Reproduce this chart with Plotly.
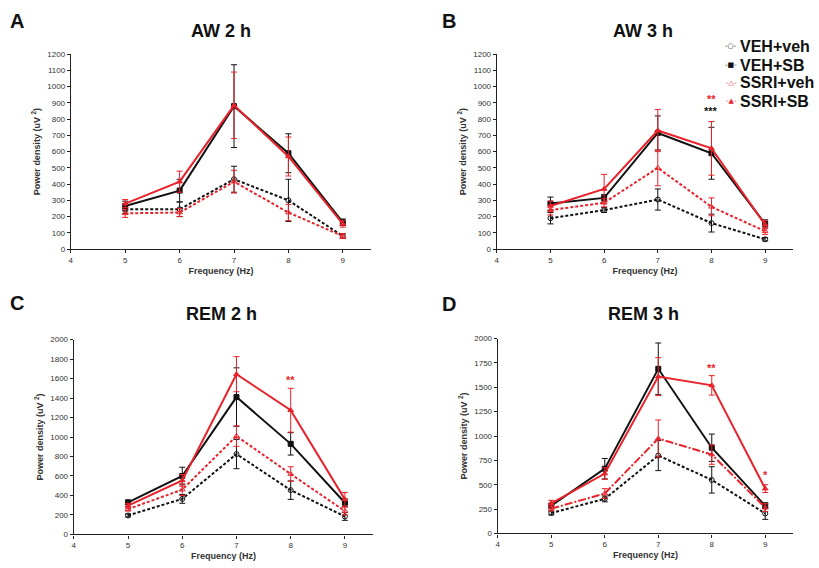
import plotly.graph_objects as go

W, H = 819, 568

freq = [5, 6, 7, 8, 9]
series_names = ["VEH+veh", "VEH+SB", "SSRI+veh", "SSRI+SB"]

# Panel A: AW 2 h
a_veh_veh = [245, 245, 430, 300, 80]
a_veh_sb = [265, 360, 880, 590, 165]
a_ssri_veh = [220, 225, 415, 225, 80]
a_ssri_sb = [280, 415, 885, 570, 155]
a_err_veh_veh = [25, 45, 80, 130, 15]
a_err_veh_sb = [30, 70, 255, 120, 20]
a_err_ssri_veh = [25, 25, 70, 50, 15]
a_err_ssri_sb = [25, 65, 205, 120, 20]

# Panel B: AW 3 h
b_veh_veh = [190, 240, 305, 160, 60]
b_veh_sb = [280, 315, 715, 590, 155]
b_ssri_veh = [240, 285, 500, 260, 110]
b_ssri_sb = [265, 370, 730, 620, 150]
b_err_veh_veh = [35, 15, 65, 55, 10]
b_err_veh_sb = [40, 20, 105, 160, 25]
b_err_ssri_veh = [30, 25, 110, 55, 20]
b_err_ssri_sb = [30, 90, 130, 165, 25]

# Panel C: REM 2 h
c_veh_veh = [195, 365, 825, 455, 185]
c_veh_sb = [330, 600, 1410, 930, 325]
c_ssri_veh = [260, 460, 1010, 620, 240]
c_ssri_sb = [295, 555, 1645, 1275, 360]
c_err_veh_veh = [15, 45, 150, 95, 40]
c_err_veh_sb = [20, 90, 300, 115, 40]
c_err_ssri_veh = [20, 60, 105, 75, 40]
c_err_ssri_sb = [25, 60, 180, 225, 70]

# Panel D: REM 3 h
d_veh_veh = [210, 355, 800, 550, 205]
d_veh_sb = [285, 665, 1690, 880, 285]
d_ssri_veh = [255, 410, 975, 810, 265]
d_ssri_sb = [310, 615, 1610, 1520, 460]
d_err_veh_veh = [20, 30, 155, 135, 60]
d_err_veh_sb = [20, 105, 265, 140, 30]
d_err_ssri_veh = [25, 50, 190, 100, 40]
d_err_ssri_sb = [30, 60, 195, 100, 40]

panel_titles = ["AW 2 h", "AW 3 h", "REM 2 h", "REM 3 h"]
panel_letters = ["A", "B", "C", "D"]
y_ranges = [[0, 1200], [0, 1200], [0, 2000], [0, 2000]]
y_dticks = [100, 100, 200, 250]

# significance marks: (panel, x, y, text, color)
sig_marks = [
    (1, 8, 927, "**", "red"),
    (1, 8, 850, "***", "black"),
    (2, 8, 1590, "**", "red"),
    (3, 8, 1700, "**", "red"),
    (3, 9, 600, "*", "red"),
]

panels = [
    (a_veh_veh, a_veh_sb, a_ssri_veh, a_ssri_sb,
     a_err_veh_veh, a_err_veh_sb, a_err_ssri_veh, a_err_ssri_sb),
    (b_veh_veh, b_veh_sb, b_ssri_veh, b_ssri_sb,
     b_err_veh_veh, b_err_veh_sb, b_err_ssri_veh, b_err_ssri_sb),
    (c_veh_veh, c_veh_sb, c_ssri_veh, c_ssri_sb,
     c_err_veh_veh, c_err_veh_sb, c_err_ssri_veh, c_err_ssri_sb),
    (d_veh_veh, d_veh_sb, d_ssri_veh, d_ssri_sb,
     d_err_veh_veh, d_err_veh_sb, d_err_ssri_veh, d_err_ssri_sb),
]

# pixel boxes for plot areas: (left, right, top, bottom)
boxes = [(69, 370, 51, 249), (496, 793, 51, 249),
         (72, 372, 341, 539), (497, 793, 340, 538)]

BLACK = "#111111"
RED = "#e8232b"
styles = [
    dict(color=BLACK, dash="3px,2px", symbol="circle-open", glyph="-○-"),
    dict(color=BLACK, dash="solid", symbol="square", glyph="-■-"),
    dict(color=RED, dash="3px,2px", symbol="triangle-up-open", glyph="-△-"),
    dict(color=RED, dash="solid", symbol="triangle-up", glyph="-▲-"),
]

fig = go.Figure()
FONT = "Liberation Sans, Arial, sans-serif"

for p, data in enumerate(panels):
    vals = data[:4]
    errs = data[4:]
    ax = "" if p == 0 else str(p + 1)
    for s in range(4):
        st = styles[s]
        dash = st["dash"]
        if p == 3 and s == 2:
            dash = "8px,2px,2px,2px"
        fig.add_trace(go.Scatter(
            x=freq, y=vals[s], name=series_names[s],
            mode="lines+markers",
            line=dict(color=st["color"], width=2, dash=dash),
            marker=dict(symbol=st["symbol"], size=5, color=st["color"],
                        line=dict(color=st["color"], width=1)),
            error_y=dict(type="data", array=errs[s], color=st["color"],
                         thickness=1, width=3, visible=True),
            xaxis="x" + ax, yaxis="y" + ax,
            showlegend=False,
        ))
    l, r, t, b = boxes[p]
    axis_common = dict(showgrid=False, zeroline=False, showline=True,
                       linecolor="#222", linewidth=1.3, ticks="outside",
                       ticklen=3, tickwidth=1, tickcolor="#222",
                       tickfont=dict(family=FONT, size=8, color="#333"))
    fig.layout["xaxis" + ax] = dict(
        domain=[l / W, r / W], anchor="y" + ax, range=[4, 9.52],
        tickmode="array", tickvals=[4, 5, 6, 7, 8, 9],
        title=dict(text="<b>Frequency (Hz)</b>", standoff=3,
                   font=dict(family=FONT, size=9, color="#333")),
        **axis_common)
    fig.layout["yaxis" + ax] = dict(
        domain=[1 - b / H, 1 - t / H], anchor="x" + ax, range=y_ranges[p],
        dtick=y_dticks[p], tick0=0,
        title=dict(text="<b>Power density (uV <sup>2</sup>)</b>", standoff=5,
                   font=dict(family=FONT, size=9, color="#333")),
        **axis_common)

annotations = []
title_pos = [(220, 27), (643, 27), (220, 315), (643, 315)]
letter_pos = [(15, 17), (448, 17), (15, 304), (448, 305)]
for p in range(4):
    tx, ty = title_pos[p]
    annotations.append(dict(text="<b>" + panel_titles[p] + "</b>", x=tx / W, y=1 - ty / H,
                            xref="paper", yref="paper", showarrow=False,
                            xanchor="center", yanchor="middle",
                            font=dict(family=FONT, size=18, color="#111")))
    lx, ly = letter_pos[p]
    annotations.append(dict(text="<b>" + panel_letters[p] + "</b>", x=lx / W, y=1 - ly / H,
                            xref="paper", yref="paper", showarrow=False,
                            xanchor="center", yanchor="middle",
                            font=dict(family=FONT, size=20, color="#111")))
for (p, xv, yv, txt, col) in sig_marks:
    ax = "" if p == 0 else str(p + 1)
    annotations.append(dict(text="<b>" + txt + "</b>", x=xv, y=yv,
                            xref="x" + ax, yref="y" + ax, showarrow=False,
                            font=dict(family=FONT, size=11,
                                      color=RED if col == "red" else BLACK)))

# legend (text + symbol glyph)
legend_rows = [43, 62, 80, 99]
for s in range(4):
    yy = 1 - legend_rows[s] / H
    annotations.append(dict(text="<b>" + series_names[s] + "</b>", x=738 / W, y=yy,
                            xref="paper", yref="paper", showarrow=False,
                            xanchor="left", yanchor="middle",
                            font=dict(family=FONT, size=16, color="#111")))
    annotations.append(dict(text=styles[s]["glyph"], x=739 / W, y=yy,
                            xref="paper", yref="paper", showarrow=False,
                            xanchor="right", yanchor="middle",
                            font=dict(family="DejaVu Sans", size=7,
                                      color=styles[s]["color"])))

fig.update_layout(
    width=W, height=H, margin=dict(l=0, r=0, t=0, b=0),
    paper_bgcolor="white", plot_bgcolor="white",
    annotations=annotations,
    showlegend=False,
)

fig.write_html("out.html", config={"displayModeBar": False},
               post_script="document.body.style.margin='0';document.body.style.padding='0';")
